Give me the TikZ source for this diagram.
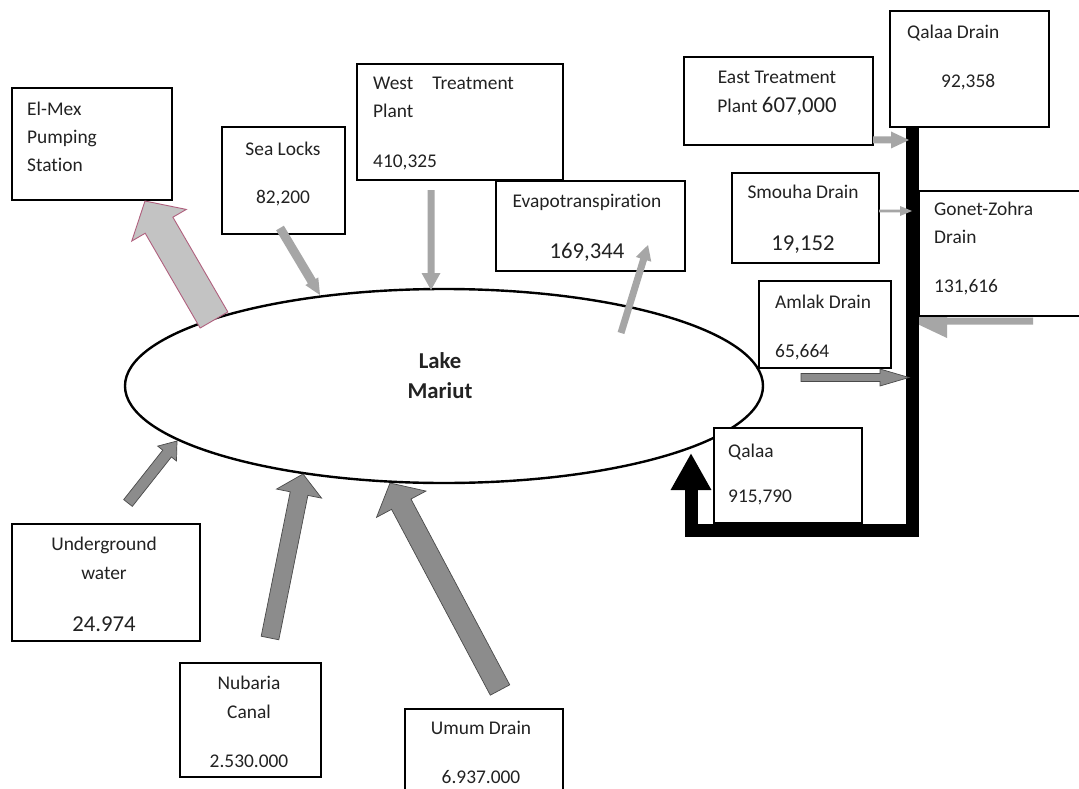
\documentclass[tikz,border=0pt]{standalone}
\usepackage{fontspec}
\setmainfont{Carlito}[RawFeature={-liga}]
\usetikzlibrary{calc,arrows.meta,shapes.geometric}
\definecolor{arrlight}{HTML}{A6A6A6}
\definecolor{arrdark}{HTML}{8C8C8C}
\definecolor{arredge}{HTML}{4A4A4A}
\definecolor{mexfill}{HTML}{C3C3C3}
\definecolor{mexedge}{HTML}{B0607E}
\definecolor{txtc}{HTML}{222222}
\newcommand{\flowarrow}[6]{%
  \coordinate (hb) at ($(#3)!#6!(#2)$);
  \draw[#1] ($(#2)!#4!90:(#3)$) -- ($(hb)!#4!90:(#3)$) -- ($(hb)!#5!90:(#3)$) -- (#3)
    -- ($(hb)!#5!-90:(#3)$) -- ($(hb)!#4!-90:(#3)$) -- ($(#2)!#4!-90:(#3)$) -- cycle;}
\newcommand{\bignum}[1]{{\fontsize{22.7}{28}\selectfont #1}}
\begin{document}
\begin{tikzpicture}[x=1pt,y=-1pt,
  box/.style={draw=black, line width=1.2pt, fill=white, inner sep=0pt},
  txt/.style={inner sep=0pt, text=txtc, font=\fontsize{19.4}{28}\selectfont},
  lightA/.style={fill=arrlight, draw=none},
  darkA/.style={fill=arrdark, draw=arredge, line width=0.7pt},
  mexA/.style={fill=mexfill, draw=mexedge, line width=0.9pt}]
\clip (0,0) rectangle (1079,789);
\fill[white] (0,0) rectangle (1079,789);

% lake
\node[draw, ellipse, line width=2.4pt, minimum width=638pt, minimum height=194pt, inner sep=0pt] (lake) at (444,386) {};
\node[txt, font=\bfseries\fontsize{22.7}{30}\selectfont, align=center, anchor=north] (lake-t) at (440,352) {Lake\\Mariut};

% arrow end points
\coordinate (mex-s) at (214,320);   \coordinate (mex-e) at (145,201);
\coordinate (sea-s) at (280,228);   \coordinate (sea-e) at (320,295);
\coordinate (west-s) at (431,190);  \coordinate (west-e) at (431,290);
\coordinate (eva-s) at (621,333);   \coordinate (eva-e) at (648,245);
\coordinate (east-s) at (873,140);  \coordinate (east-e) at (909,140);
\coordinate (smo-s) at (879,211);   \coordinate (smo-e) at (912,211);
\coordinate (gon-s) at (1033,321);  \coordinate (gon-e) at (911,321);
\coordinate (aml-s) at (801,377.5); \coordinate (aml-e) at (909,377.5);
\coordinate (und-s) at (128,503);   \coordinate (und-e) at (177,441);
\coordinate (nub-s) at (270,638);   \coordinate (nub-e) at (303,474);
\coordinate (umu-s) at (500,690);   \coordinate (umu-e) at (390,483);
\coordinate (blk-a) at (912,127);   \coordinate (blk-b) at (691,530.5);
\coordinate (blk-c) at (691,453);

% arrow that runs under its box
\flowarrow{lightA}{gon-s}{gon-e}{3.5pt}{17pt}{36pt}

% black drain line
\draw[line width=13pt, line join=miter, -{Triangle[length=37pt,width=38pt]}] (blk-a) |- (blk-b) -- (blk-c);

% boxes
\node[box, minimum width=160pt, minimum height=112pt] (elmex) at (92,144) {};
\node[box, minimum width=123pt, minimum height=107pt] (sealocks) at (283.5,180.5) {};
\node[box, minimum width=206pt, minimum height=116pt] (west) at (460,122) {};
\node[box, minimum width=189pt, minimum height=90pt] (evapo) at (590.5,226) {};
\node[box, minimum width=189pt, minimum height=88pt] (east) at (778.5,101) {};
\node[box, minimum width=159pt, minimum height=116pt] (qdrain) at (969.5,69) {};
\node[box, minimum width=147pt, minimum height=90pt] (smouha) at (805.5,218) {};
\node[box, minimum width=176pt, minimum height=125pt] (gonet) at (1007,253.5) {};
\node[box, minimum width=132pt, minimum height=87pt] (amlak) at (825,324.5) {};
\node[box, minimum width=148pt, minimum height=95pt] (qalaa) at (788,475.5) {};
\node[box, minimum width=188pt, minimum height=117pt] (under) at (106,582.5) {};
\node[box, minimum width=141pt, minimum height=114pt] (nubaria) at (250.5,720) {};
\node[box, minimum width=158pt, minimum height=101pt] (umum) at (484,759.5) {};

% block arrows on top of boxes
\flowarrow{mexA}{mex-s}{mex-e}{16pt}{31.5pt}{28pt}
\flowarrow{lightA}{sea-s}{sea-e}{4.5pt}{7.5pt}{16pt}
\flowarrow{lightA}{west-s}{west-e}{3.5pt}{9.5pt}{17pt}
\flowarrow{lightA}{eva-s}{eva-e}{3.5pt}{8pt}{15pt}
\flowarrow{lightA}{east-s}{east-e}{3.5pt}{8.5pt}{18pt}
\flowarrow{lightA}{smo-s}{smo-e}{1.3pt}{5pt}{12pt}
\flowarrow{darkA}{aml-s}{aml-e}{4pt}{8.5pt}{29pt}
\flowarrow{darkA}{und-s}{und-e}{5.5pt}{12pt}{16pt}
\flowarrow{darkA}{nub-s}{nub-e}{9pt}{23pt}{20pt}
\flowarrow{darkA}{umu-s}{umu-e}{11pt}{28pt}{24pt}

% texts
\node[txt, anchor=north west, align=left] (elmex-t) at (27,102) {El-Mex\\Pumping\\Station};
\node[txt, anchor=north, align=center] (sealocks-t) at (283,142) {Sea Locks\\[20pt]82,200};
\node[txt, anchor=north west, align=left] (west-t) at (373,77) {West\hspace{19pt}Treatment\\Plant\\[22pt]410,325};
\node[txt, anchor=north, align=center] (evapo-t) at (587,194) {Evapotranspiration\\[23pt]\bignum{169,344}};
\node[txt, anchor=north, align=center] (east-t) at (777,71) {East Treatment\\[1pt]Plant \bignum{607,000}};
\node[txt, anchor=north west, align=left] (qdrain-t) at (907,25) {Qalaa Drain\\[21pt]\hspace*{34pt}92,358};
\node[txt, anchor=north, align=center] (smouha-t) at (803,185) {Smouha Drain\\[24pt]\bignum{19,152}};
\node[txt, anchor=north west, align=left] (gonet-t) at (934,202) {Gonet-Zohra\\Drain\\[21pt]131,616};
\node[txt, anchor=north west, align=left] (amlak-t) at (775,295) {Amlak Drain\\[21pt]65,664};
\node[txt, anchor=north west, align=left] (qalaa-t) at (728,444) {Qalaa\\[17pt]915,790};
\node[txt, anchor=north, align=center] (under-t) at (104,537) {Underground\\[1pt]water\\[24pt]\bignum{24.974}};
\node[txt, anchor=north, align=center] (nubaria-t) at (249,676) {Nubaria\\[1pt]Canal\\[21pt]2.530.000};
\node[txt, anchor=north, align=center] (umum-t) at (481,721) {Umum Drain\\[21pt]6.937.000};
\end{tikzpicture}
\end{document}
